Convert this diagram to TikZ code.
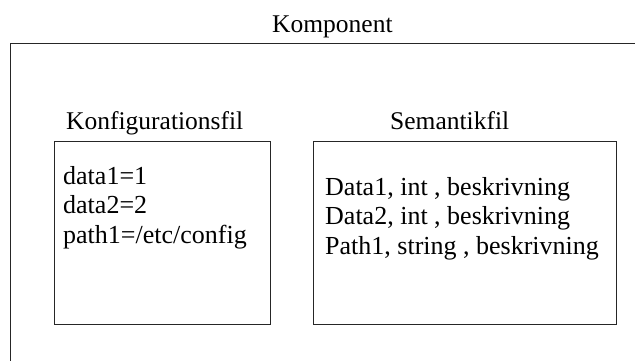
\documentclass[tikz,border=0pt]{standalone}
\usepackage{fontspec}
\setmainfont{Liberation Serif}
\begin{document}
\begin{tikzpicture}[x=1pt,y=-1pt,
  frame/.style={draw=black!85,line width=0.9pt,inner sep=0pt,outer sep=0pt,anchor=north west},
  lbl/.style={inner sep=0pt,anchor=base west,font=\fontsize{25.5}{29}\selectfont},
  row/.style={inner sep=0pt,anchor=base west,font=\fontsize{26}{29}\selectfont}]
\useasboundingbox (0,0) rectangle (635,361);
\clip (0,0) rectangle (635,361);
% outer component frame, running past the right and bottom edges
\node[frame,minimum width=640pt,minimum height=340pt] (comp) at (10,43) {};
\node[lbl] (comptitle) at (272,33) {Komponent};
% configuration file
\node[frame,minimum width=216pt,minimum height=183pt] (conf) at (54,141) {};
\node[lbl] (conftitle) at (66,129) {Konfigurationsfil};
\node[row] (c1) at (63,184) {data1=1};
\node[row] (c2) at (63,213.5) {data2=2};
\node[row] (c3) at (63,243) {path1=/etc/config};
% semantics file
\node[frame,minimum width=303pt,minimum height=183pt] (sem) at (313,141) {};
\node[lbl] (semtitle) at (390,129) {Semantikfil};
\node[row] (s1) at (325,195) {Data1, int , beskrivning};
\node[row] (s2) at (325,224.5) {Data2, int , beskrivning};
\node[row] (s3) at (325,254) {Path1, string , beskrivning};
\end{tikzpicture}
\end{document}
